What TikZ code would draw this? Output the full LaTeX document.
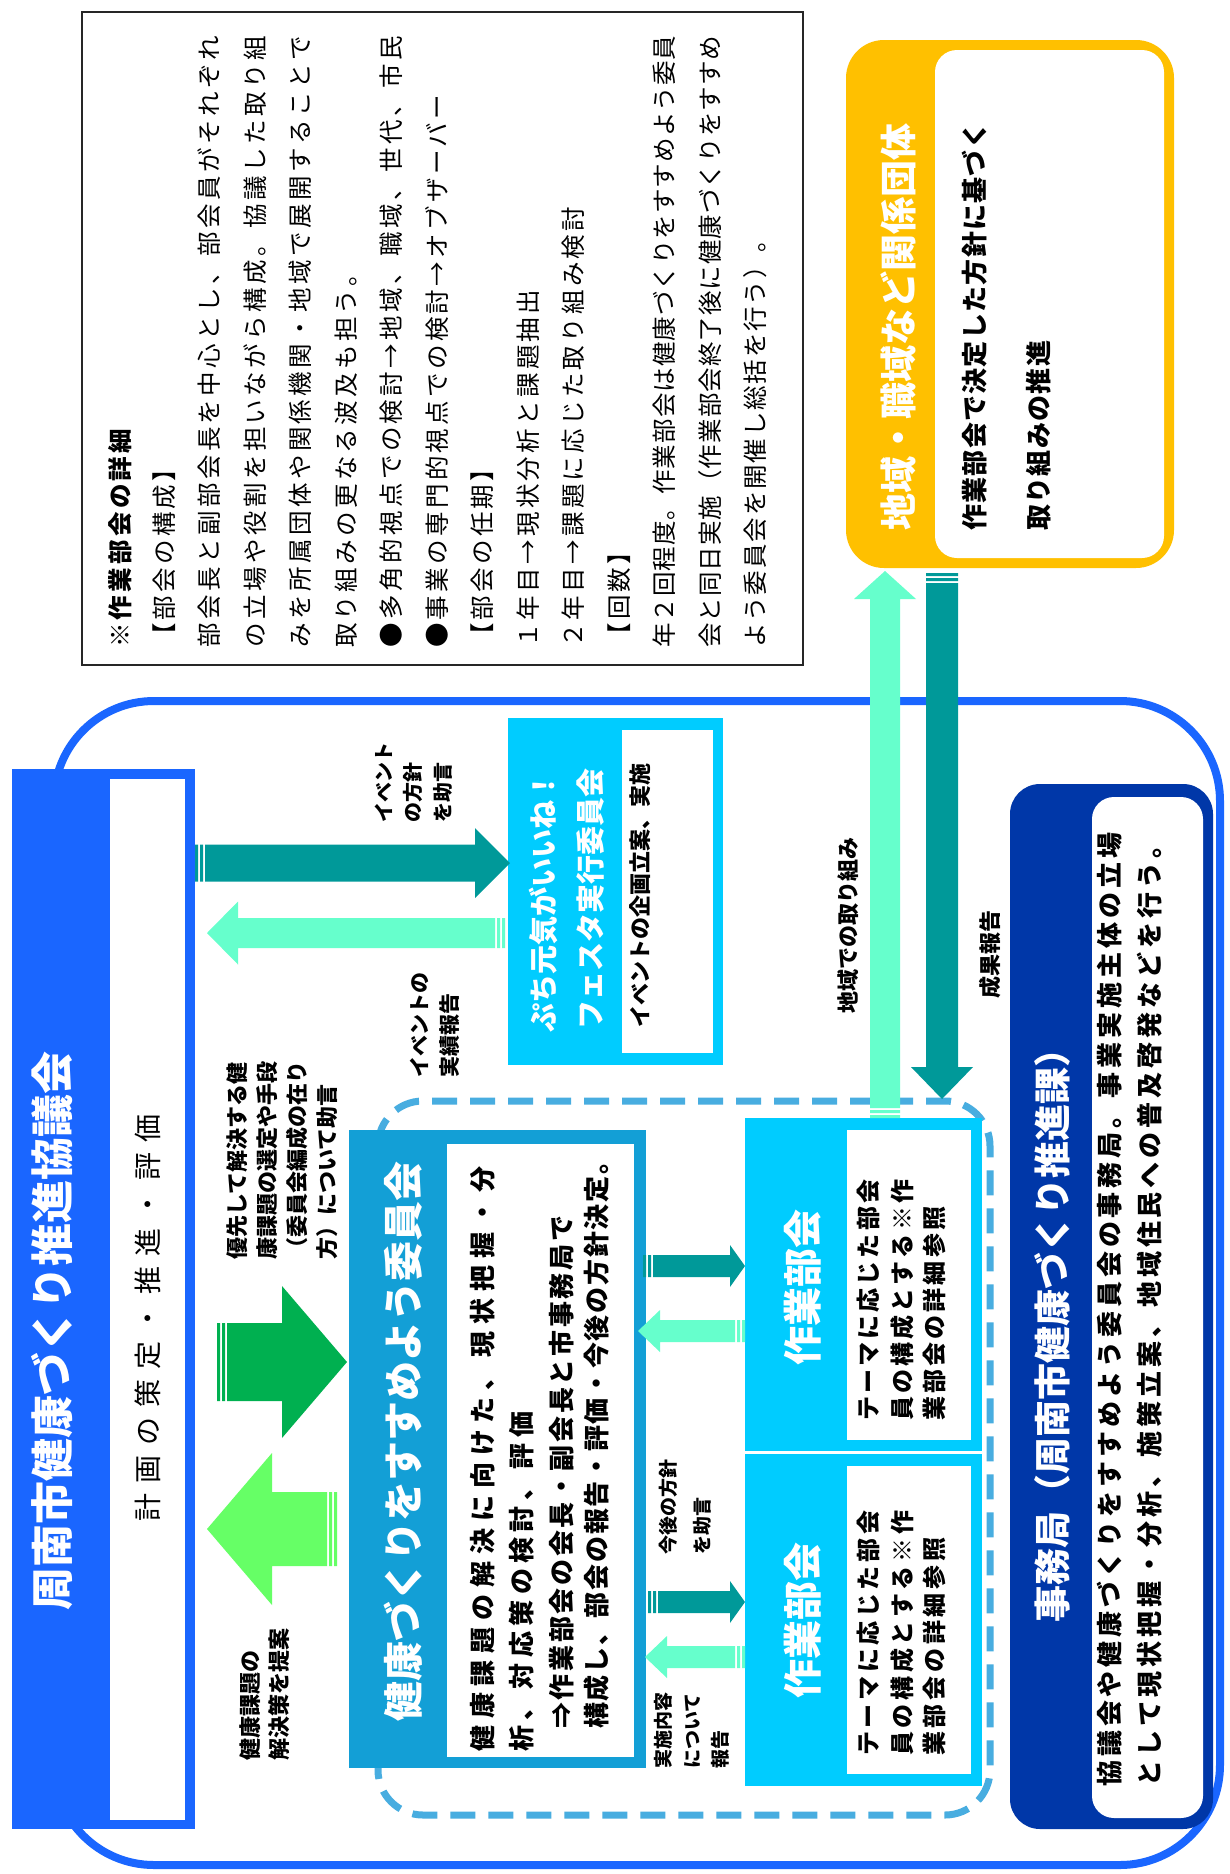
\documentclass[tikz,border=0pt]{standalone}
\usepackage{fontspec}
\setmainfont{Noto Sans CJK JP}
\usetikzlibrary{calc}
\definecolor{bluemain}{HTML}{1A66FF}
\definecolor{teal2}{HTML}{009999}
\definecolor{aqua2}{HTML}{66FFCC}
\definecolor{dgreen}{HTML}{00B050}
\definecolor{lgreen}{HTML}{66FF66}
\definecolor{commblue}{HTML}{139FD6}
\definecolor{cyan2}{HTML}{00CCFF}
\definecolor{dashblue}{HTML}{48ADE0}
\definecolor{orange2}{HTML}{FFC000}
\definecolor{navy2}{HTML}{0037A8}
\newcommand\fs[1]{\fontsize{#1}{#1}\selectfont}
\def\sprd#1#2\sprdend{#1\ifx\relax#2\relax\else\hfil\sprd#2\sprdend\fi}
\newcommand\sline[2]{\hbox to #1{\sprd#2\sprdend}}
% block arrow: #1 colour, #2 tail, #3 tip, #4 shaft half, #5 head half, #6 head length
\newcommand\barrow[6]{%
 \fill[#1] ($(#2)!0pt!(#3)!#4!90:(#3)$) -- ($(#2)!3pt!(#3)!#4!90:(#3)$) -- ($(#2)!3pt!(#3)!#4!-90:(#3)$) -- ($(#2)!0pt!(#3)!#4!-90:(#3)$) -- cycle
  ($(#2)!5pt!(#3)!#4!90:(#3)$) -- ($(#2)!8pt!(#3)!#4!90:(#3)$) -- ($(#2)!8pt!(#3)!#4!-90:(#3)$) -- ($(#2)!5pt!(#3)!#4!-90:(#3)$) -- cycle
  ($(#2)!10pt!(#3)!#4!90:(#3)$) -- ($(#3)!#6!(#2)!#4!90:(#3)$) -- ($(#3)!#6!(#2)!#5!90:(#3)$) -- (#3) -- ($(#3)!#6!(#2)!#5!-90:(#3)$) -- ($(#3)!#6!(#2)!#4!-90:(#3)$) -- ($(#2)!10pt!(#3)!#4!-90:(#3)$) -- cycle;}
\tikzset{
 vt/.style={rotate=90, anchor=west, inner sep=0pt, execute at begin node={\rule[-0.12em]{0pt}{1em}}},
 vc/.style={rotate=90, anchor=center, inner sep=0pt, execute at begin node={\rule[-0.12em]{0pt}{1em}}},
 notetxt/.style={vt, font=\fs{24.5}},
 lbl/.style={vt, font=\fs{#1}\bfseries},
 wtitle/.style={vc, text=white, font=\fs{#1}\bfseries},
}
\begin{document}
\begin{tikzpicture}[x=1pt, y=-1pt]
\useasboundingbox (0,0) rectangle (1229,1874);
\fill[white] (0,0) rectangle (1229,1874);

% note box
\filldraw[fill=white, draw=black!85, line width=2.5pt] (82,12) rectangle (803,665);

% outer container
\draw[bluemain, line width=8pt, rounded corners=100pt] (54,701) rectangle (1220,1865);
% dashed group
\draw[dashblue, line width=7pt, dash pattern=on 25pt off 13pt, rounded corners=45pt] (378,1101) rectangle (990,1815);

% title box
\fill[bluemain] (12,769) rectangle (195,1829);
\fill[white] (110,779) rectangle (185,1820);
% puchi box
\fill[cyan2] (508,718) rectangle (723,1065);
\fill[white] (622,730) rectangle (713,1053);
% committee box
\fill[commblue] (349,1130) rectangle (646,1768);
\fill[white] (447,1144) rectangle (634,1757);
% working groups
\fill[cyan2] (745,1118) rectangle (982,1451);
\fill[cyan2] (745,1454) rectangle (982,1786);
\fill[white] (847,1130) rectangle (971,1440);
\fill[white] (847,1466) rectangle (971,1774);
% orange box
\fill[orange2, rounded corners=38pt] (846,40) rectangle (1174,568);
\fill[white, rounded corners=22pt] (935,50) rectangle (1164,558);
% secretariat box
\fill[navy2, rounded corners=30pt] (1010,784) rectangle (1213,1829);
\fill[white, rounded corners=22pt] (1092,797) rectangle (1203,1818);

% arrows
\coordinate (a1t) at (195,863);  \coordinate (a1h) at (510,863);
\coordinate (a2t) at (505,933);  \coordinate (a2h) at (207,933);
\coordinate (a3t) at (217,1362); \coordinate (a3h) at (347,1362);
\coordinate (a4t) at (337,1529); \coordinate (a4h) at (207,1529);
\coordinate (a5t) at (643,1266); \coordinate (a5h) at (745,1266);
\coordinate (a6t) at (745,1331); \coordinate (a6h) at (638,1331);
\coordinate (a7t) at (648,1602); \coordinate (a7h) at (745,1602);
\coordinate (a8t) at (745,1657); \coordinate (a8h) at (645,1657);
\coordinate (a9t) at (885,1118); \coordinate (a9h) at (885,571);
\coordinate (a10t) at (942,573); \coordinate (a10h) at (942,1099);
\barrow{teal2}{a1t}{a1h}{18.5pt}{35pt}{35pt}
\barrow{aqua2}{a2t}{a2h}{15pt}{31.5pt}{31pt}
\barrow{dgreen}{a3t}{a3h}{39pt}{76pt}{65pt}
\barrow{lgreen}{a4t}{a4h}{37pt}{76pt}{65pt}
\barrow{teal2}{a5t}{a5h}{11pt}{21pt}{15pt}
\barrow{aqua2}{a6t}{a6h}{11pt}{21pt}{22pt}
\barrow{teal2}{a7t}{a7h}{11pt}{21pt}{15pt}
\barrow{aqua2}{a8t}{a8h}{11pt}{21pt}{22pt}
\barrow{aqua2}{a9t}{a9h}{15pt}{31pt}{28pt}
\barrow{teal2}{a10t}{a10h}{16pt}{31pt}{32pt}

% note text
\node[vt, font=\fs{24.5}\bfseries] (n1) at (120,648) {\sline{219pt}{※作業部会の詳細}};
\node[notetxt] (n2) at (164,648) {\sline{191pt}{【部会の構成】}};
\node[notetxt] (n3) at (209.5,648) {\sline{612pt}{部会長と副部会長を中心とし、部会員がそれぞれ}};
\node[notetxt] (n4) at (255,648) {\sline{612pt}{の立場や役割を担いながら構成。協議した取り組}};
\node[notetxt] (n5) at (300.5,648) {\sline{612pt}{みを所属団体や関係機関・地域で展開することで}};
\node[notetxt] (n6) at (346,648) {\sline{386pt}{取り組みの更なる波及も担う。}};
\node[notetxt] (n7) at (391.5,648) {\sline{612pt}{●多角的視点での検討→地域、職域、世代、市民}};
\node[notetxt] (n8) at (437,648) {\sline{553pt}{●事業の専門的視点での検討→オブザーバー}};
\node[notetxt] (n9) at (482.5,648) {\sline{191pt}{【部会の任期】}};
\node[notetxt] (n10) at (528,648) {\sline{358pt}{１年目→現状分析と課題抽出}};
\node[notetxt] (n11) at (573.5,648) {\sline{441pt}{２年目→課題に応じた取り組み検討}};
\node[notetxt] (n12) at (619,648) {\sline{108pt}{【回数】}};
\node[notetxt] (n13) at (664.5,648) {\sline{612pt}{年２回程度。作業部会は健康づくりをすすめよう委員}};
\node[notetxt] (n14) at (710,648) {\sline{612pt}{会と同日実施（作業部会終了後に健康づくりをすすめ}};
\node[notetxt] (n15) at (755.5,648) {\sline{420pt}{よう委員会を開催し総括を行う）。}};

% title box text
\node[wtitle=43] (title) at (52,1331) {周南市健康づくり推進協議会};
\node[vc, font=\fs{28}] (plan) at (148,1318) {\sline{407pt}{計画の策定・推進・評価}};

% arrow labels
\node[lbl=20] (e1) at (384,823) {イベント};
\node[lbl=20] (e2) at (413,823) {の方針};
\node[lbl=20] (e3) at (443,823) {を助言};
\node[lbl=21] (r1) at (420,1078) {イベントの};
\node[lbl=21] (r2) at (450,1078) {実績報告};
\node[lbl=22] (p1) at (237,1260) {優先して解決する健};
\node[lbl=22] (p2) at (267,1260) {康課題の選定や手段};
\node[lbl=22] (p3) at (297,1260) {（委員会編成の在り};
\node[lbl=22] (p4) at (327,1260) {方）について助言};
\node[lbl=22] (s1) at (250,1761) {健康課題の};
\node[lbl=22] (s2) at (279,1761) {解決策を提案};
\node[lbl=19] (k1) at (668,1555) {今後の方針};
\node[lbl=19] (k2) at (702,1555) {を助言};
\node[lbl=19] (j1) at (663,1769) {実施内容};
\node[lbl=19] (j2) at (692,1769) {について};
\node[lbl=19] (j3) at (720,1769) {報告};
\node[lbl=22] (c1) at (848,1014) {地域での取り組み};
\node[lbl=22] (c2) at (990,999) {成果報告};

% puchi box text
\node[lbl=29, text=white] (pt1) at (543,1033) {ぷち元気がいいね！};
\node[lbl=29, text=white] (pt2) at (590,1030) {フェスタ実行委員会};
\node[lbl=22] (pt3) at (640,1028) {イベントの企画立案、実施};

% committee text
\node[wtitle=40] (ct) at (403,1441) {健康づくりをすすめよう委員会};
\node[lbl=26] (cl1) at (483,1752) {\sline{585pt}{健康課題の解決に向けた、現状把握・分}};
\node[lbl=26] (cl2) at (522,1752) {\sline{340pt}{析、対応策の検討、評価}};
\node[lbl=26] (cl3) at (562,1729) {\sline{513pt}{⇒作業部会の会長・副会長と市事務局で}};
\node[lbl=26] (cl4) at (597,1729) {\sline{580pt}{構成し、部会の報告・評価・今後の方針決定。}};

% working group text
\node[wtitle=39] (w1) at (803,1287) {作業部会};
\node[lbl=24] (w1a) at (868,1421) {\sline{241pt}{テーマに応じた部会}};
\node[lbl=24] (w1b) at (902,1421) {\sline{241pt}{員の構成とする※作}};
\node[lbl=24] (w1c) at (934,1421) {\sline{214pt}{業部会の詳細参照}};
\node[wtitle=39] (w2) at (803,1620) {作業部会};
\node[lbl=24] (w2a) at (868,1756) {\sline{245pt}{テーマに応じた部会}};
\node[lbl=24] (w2b) at (902,1756) {\sline{245pt}{員の構成とする※作}};
\node[lbl=24] (w2c) at (934,1756) {\sline{218pt}{業部会の詳細参照}};

% orange box text
\node[wtitle=37] (ot) at (898,327) {地域・職域など関係団体};
\node[lbl=26] (o1) at (975,531) {\sline{408pt}{作業部会で決定した方針に基づく}};
\node[lbl=26] (o2) at (1039,531) {\sline{190pt}{取り組みの推進}};

% secretariat text
\node[wtitle=37] (jt) at (1052,1326) {事務局（周南市健康づくり推進課）};
\node[lbl=26] (j1t) at (1110,1787) {\sline{954pt}{協議会や健康づくりをすすめよう委員会の事務局。事業実施主体の立場}};
\node[lbl=26] (j2t) at (1150,1787) {\sline{954pt}{として現状把握・分析、施策立案、地域住民への普及啓発などを行う。}};
\end{tikzpicture}
\end{document}
